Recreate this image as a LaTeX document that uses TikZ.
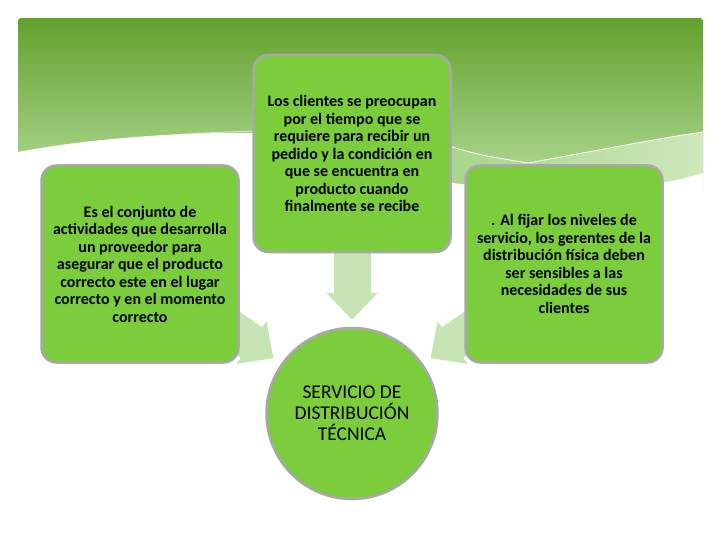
\documentclass[tikz,border=0pt]{standalone}
\usepackage{fontspec}
\setmainfont{Carlito}
\usetikzlibrary{arrows.meta,positioning,shapes}

\definecolor{bandtop}{HTML}{62A12D}
\definecolor{bandbot}{HTML}{B7DD9C}
\definecolor{boxgreen}{HTML}{7BCD3B}
\definecolor{boxline}{HTML}{A8A8A8}
\definecolor{arrowgreen}{HTML}{C6E3B3}
\definecolor{swooshl}{HTML}{A9D58C}
\definecolor{swooshr}{HTML}{CDE8BC}

\pgfdeclarelayer{back}
\pgfsetlayers{back,main}

\tikzset{
  box/.style={draw=boxline,line width=2.5pt,fill=boxgreen,rounded corners=15pt,
    minimum width=197pt,minimum height=197pt,align=center,
    font=\fontsize{16}{17.5}\selectfont\bfseries},
  hub/.style={circle,draw=boxline,line width=2.5pt,fill=boxgreen,minimum size=171pt,
    align=center,font=\fontsize{19.5}{21}\selectfont},
  fat/.style={arrowgreen,line width=37pt,-{Triangle[length=27pt,width=50pt]}}
}

\begin{document}
\begin{tikzpicture}[x=1pt,y=-1pt]

  \useasboundingbox (0,0) rectangle (720,540);

  \node[hub] (serv) at (352,413.5) {SERVICIO DE\\DISTRIBUCIÓN\\TÉCNICA};
  \node[box] (cbox) [above of=serv,node distance=260pt]
    {Los clientes se preocupan\\por el tiempo que se\\requiere para recibir un\\pedido y la condición en\\que se encuentra en\\producto cuando\\finalmente se recibe};
  \node[box] (lbox) [left of=serv,node distance=212pt,yshift=149.5pt]
    {Es el conjunto de\\actividades que desarrolla\\un proveedor para\\asegurar que el producto\\correcto este en el lugar\\correcto y en el momento\\correcto};
  \node[box] (rbox) [right of=serv,node distance=212pt,yshift=149.5pt]
    {. Al fijar los niveles de\\servicio, los gerentes de la\\distribución física deben\\ser sensibles a las\\necesidades de sus\\clientes};

  \begin{pgfonlayer}{back}
    % banner with the swoosh
    \fill[white] (0,0) rectangle (720,540);
    \shade[top color=bandtop,bottom color=bandbot,rounded corners=3pt] (18,18) rectangle (703,195);
    \shade[left color=swooshl,right color=swooshr] (452,147) .. controls (480,155) .. (528,163)
      .. controls (600,150) and (660,138) .. (703,132) -- (703,173)
      .. controls (640,192) and (560,196) .. (452,183) -- cycle;
    \fill[white] (18,152) .. controls (80,140) and (170,132) .. (255,133) -- (452,183)
      .. controls (560,196) and (640,192) .. (703,173) -- (703,200) -- (18,200) -- cycle;
    \draw[white,line width=0.8pt] (452,147) .. controls (480,155) .. (528,163)
      .. controls (600,150) and (660,138) .. (703,132);
    \draw[white,opacity=.6,line width=1pt] (130,139) .. controls (180,134) .. (253,131);

    % arrows into the circle
    \draw[fat,shorten >=7pt] (cbox.south) -- (serv.north);
    \draw[fat,shorten >=96pt] (lbox.center) -- (serv.center);
    \draw[fat,shorten >=96pt] (rbox.center) -- (serv.center);
  \end{pgfonlayer}

\end{tikzpicture}
\end{document}
